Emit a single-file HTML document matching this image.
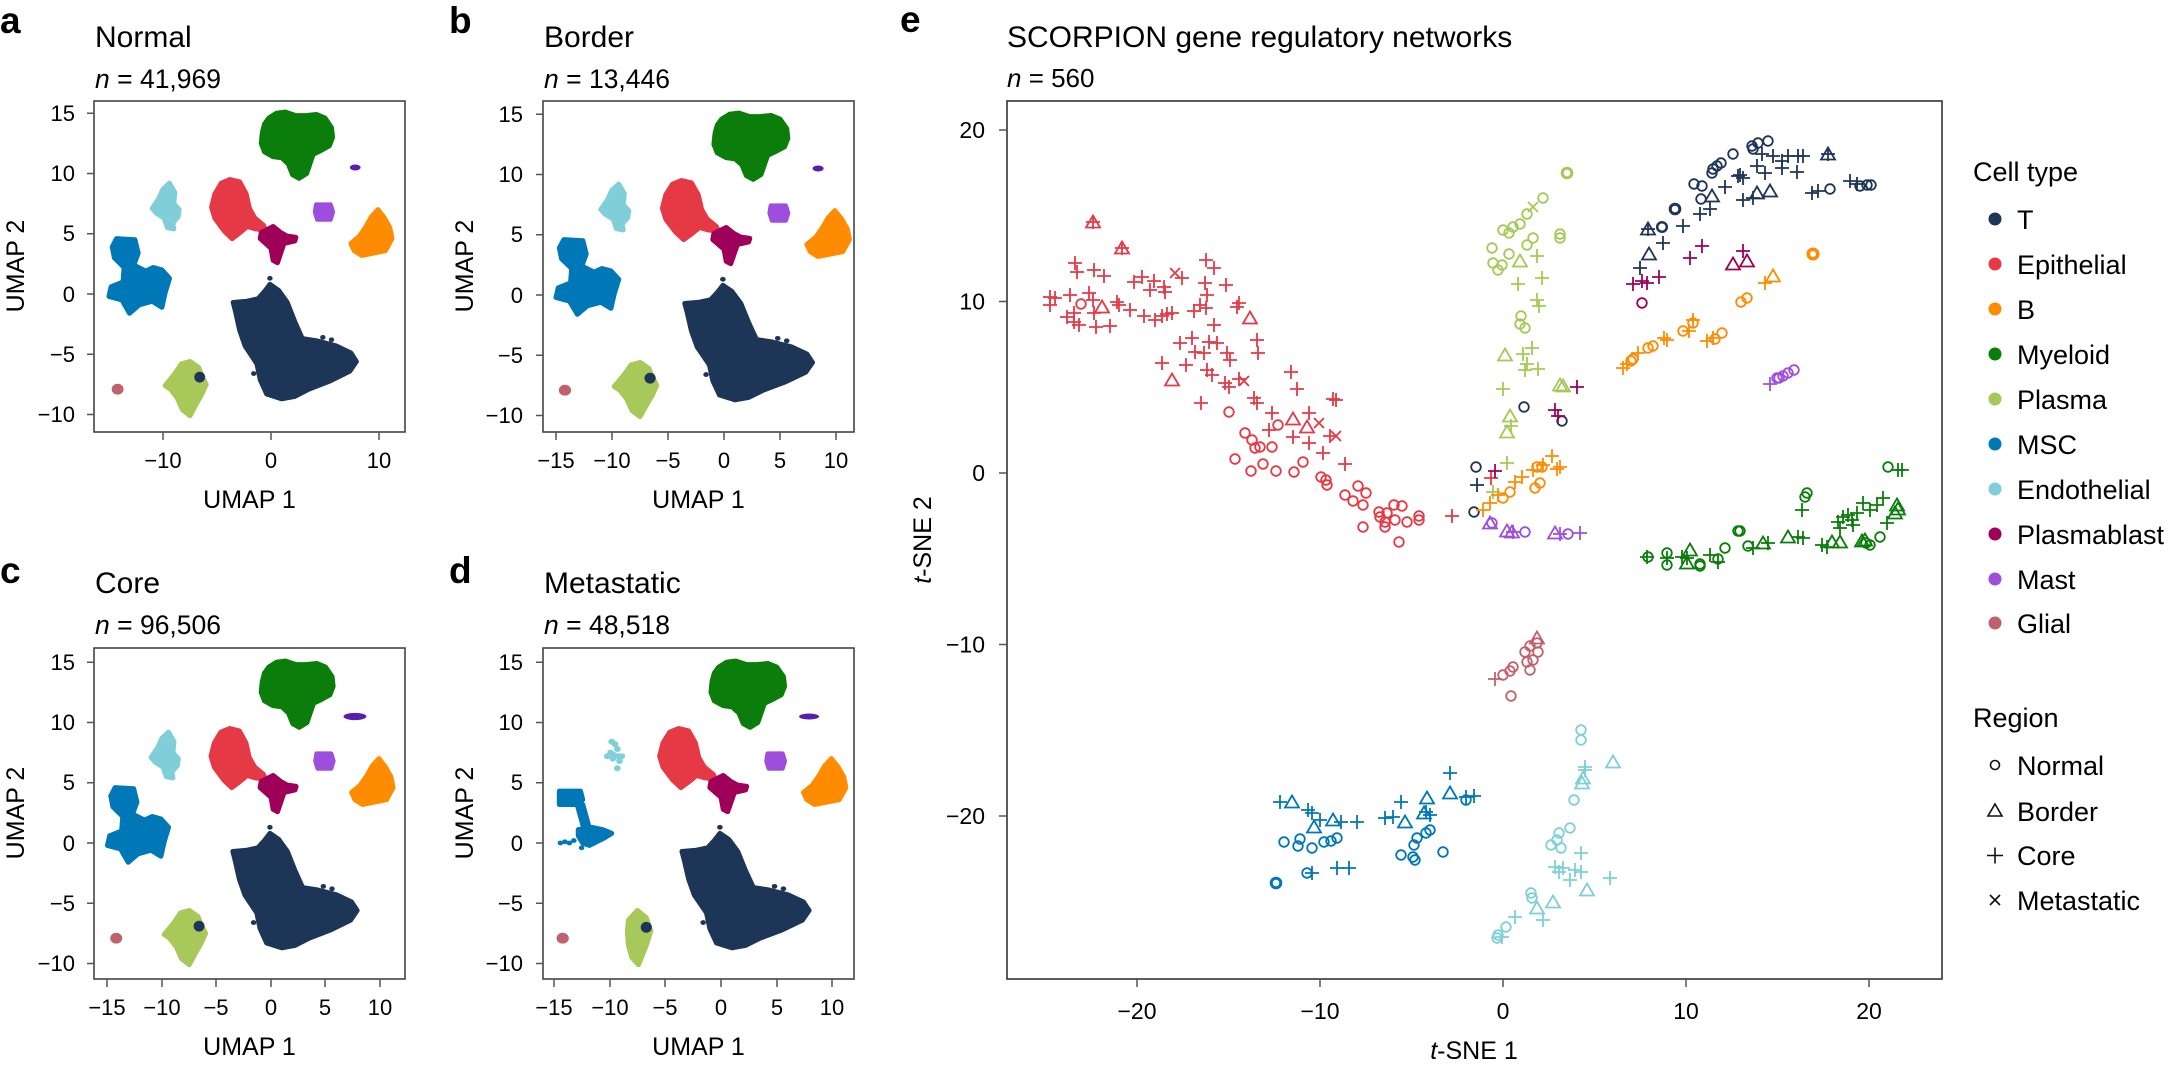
<!DOCTYPE html>
<html><head><meta charset="utf-8"><style>
html,body{margin:0;padding:0;background:#fff;}
svg{display:block;font-family:"Liberation Sans",sans-serif;}
.lt{font-weight:bold;font-size:37px;}
.ti{font-size:30px;}
.nn{font-size:26.5px;}
.tk{font-size:22px;}
.tke{font-size:23px;}
.al{font-size:25px;}
.lg{font-size:27px;}
.bl{stroke-width:5px;}
</style></head><body>
<svg width="2168" height="1067" viewBox="0 0 2168 1067" xmlns="http://www.w3.org/2000/svg">
<defs>
<circle id="o" r="4.8"/>
<path id="t" d="M0,-6.5L7,5.5H-7Z"/>
<path id="p" d="M-7,0H7M0,-7V7"/>
<path id="x" d="M-5,-5L5,5M-5,5L5,-5"/>
<clipPath id="ca"><rect x="94" y="101" width="311" height="331"/></clipPath>
<clipPath id="cb"><rect x="543" y="101" width="311" height="331"/></clipPath>
<clipPath id="cc"><rect x="94" y="648" width="311" height="331"/></clipPath>
<clipPath id="cd"><rect x="543" y="648" width="311" height="331"/></clipPath>
<g id="base" stroke-linejoin="round">
 <path class="bl" fill="#0a7d0a" stroke="#0a7d0a" vector-effect="non-scaling-stroke" d="M-0.2,14.6 L0.5,15.0 L1.3,15.1 L2.3,14.8 L3.2,14.8 L4.2,14.9 L5.0,14.6 L5.6,13.8 L5.7,13.0 L5.4,12.3 L4.6,11.9 L3.9,11.6 L3.6,10.8 L3.3,10.0 L2.6,9.6 L2.0,9.9 L1.6,10.8 L1.0,11.3 L0.2,11.4 L-0.6,11.8 L-0.9,12.5 L-0.8,13.4 L-0.6,14.1 Z"/>
 <path class="bl" fill="#9d4edd" stroke="#9d4edd" vector-effect="non-scaling-stroke" d="M4.2,7.4 L5.5,7.4 L5.7,6.8 L5.5,6.2 L4.3,6.2 L4.1,6.8 Z"/>
 <path class="bl" fill="#ff8c00" stroke="#ff8c00" vector-effect="non-scaling-stroke" d="M9.9,7.0 L10.5,6.3 L11.0,5.5 L11.2,4.6 L10.6,3.6 L9.5,3.4 L8.4,3.2 L7.7,3.6 L7.4,4.2 L8.2,4.8 L8.8,5.6 L9.3,6.4 Z"/>
 <path class="bl" fill="#e63946" stroke="#e63946" vector-effect="non-scaling-stroke" d="M-3.8,9.5 L-2.9,9.3 L-2.3,8.3 L-2.0,7.1 L-1.5,6.3 L-0.7,5.7 L-0.5,5.3 L-1.4,5.4 L-2.2,5.6 L-3.0,5.0 L-3.6,4.6 L-4.3,5.2 L-5.2,6.3 L-5.5,7.2 L-5.2,8.3 L-4.6,9.2 Z"/>
 <path class="bl" fill="#9e0059" stroke="#9e0059" vector-effect="non-scaling-stroke" d="M-0.9,5.1 L0.2,5.6 L0.9,5.1 L1.5,4.8 L2.3,4.7 L2.2,4.4 L1.2,4.2 L0.9,3.4 L0.6,2.6 L0.2,2.8 L0.0,3.8 L-0.5,4.2 L-1.0,4.6 Z"/>
 <path class="bl" fill="#1d3557" stroke="#1d3557" vector-effect="non-scaling-stroke" d="M-0.1,0.8 L0.7,0.3 L1.5,-0.7 L2.2,-2.3 L2.9,-3.7 L4.3,-3.9 L6.0,-4.3 L7.4,-4.9 L7.9,-5.6 L7.3,-6.4 L5.5,-7.2 L3.5,-7.9 L2.2,-8.5 L1.0,-8.7 L-0.4,-8.3 L-1.0,-7.1 L-1.3,-5.8 L-2.4,-4.3 L-2.9,-3.0 L-3.3,-1.4 L-3.5,-0.7 L-2.2,-0.6 L-1.2,-0.4 L-0.6,0.2 Z"/>
 <g fill="#1d3557"><ellipse cx="-0.1" cy="1.3" rx="0.25" ry="0.2"/><ellipse cx="4.8" cy="-3.6" rx="0.25" ry="0.2"/><ellipse cx="5.6" cy="-3.8" rx="0.25" ry="0.2"/><ellipse cx="-1.6" cy="-6.6" rx="0.25" ry="0.2"/></g>
 <ellipse cx="-14.2" cy="-7.9" rx="0.55" ry="0.45" fill="#c0626e"/>
</g>
<g id="msc" stroke-linejoin="round">
 <path class="bl" fill="#0077b6" stroke="#0077b6" vector-effect="non-scaling-stroke" d="M-14.3,4.6 L-12.6,4.5 L-12.3,3.4 L-12.7,2.4 L-11.6,1.9 L-10.9,2.2 L-10.1,2.0 L-9.4,1.3 L-9.8,0.1 L-10.1,-1.1 L-11.0,-0.6 L-12.2,-0.9 L-13.1,-1.6 L-13.8,-0.5 L-15.0,-0.2 L-14.8,0.6 L-13.7,1.0 L-13.6,2.2 L-14.5,3.0 L-14.7,3.9 Z"/>
 <path class="bl" fill="#80cfd8" stroke="#80cfd8" vector-effect="non-scaling-stroke" d="M-9.4,9.2 L-8.9,8.4 L-9.0,7.5 L-8.5,7.0 L-8.6,6.4 L-9.1,5.9 L-9.0,5.4 L-9.6,5.5 L-9.9,6.3 L-10.6,6.7 L-11.0,7.1 L-10.4,7.9 L-10.0,8.7 Z"/>
 <path class="bl" fill="#a8c95a" stroke="#a8c95a" vector-effect="non-scaling-stroke" d="M-7.5,-5.6 L-6.7,-6.1 L-6.4,-6.8 L-6.0,-7.5 L-6.4,-8.3 L-6.9,-9.1 L-7.5,-10.1 L-8.2,-9.6 L-8.7,-8.6 L-9.3,-7.9 L-9.8,-7.6 L-8.9,-6.6 L-8.3,-5.8 Z"/>
 <ellipse cx="-6.6" cy="-6.9" rx="0.5" ry="0.45" fill="#1d3557"/>
</g>
<g id="mscd" stroke-linejoin="round">
 <path class="bl" fill="#0077b6" stroke="#0077b6" vector-effect="non-scaling-stroke" d="M-14.5,4.3 L-12.6,4.3 L-12.4,3.6 L-13.0,3.2 L-14.5,3.2 Z M-12.9,3.2 L-12.4,3.2 L-11.8,1.2 L-12.3,1.2 Z M-12.8,1.1 L-11.6,1.3 L-10.6,1.1 L-9.8,0.8 L-10.5,0.4 L-11.8,-0.2 L-12.4,0.0 L-12.8,0.6 Z"/>
 <g fill="#0077b6"><ellipse cx="-14.4" cy="0" rx="0.25" ry="0.2"/><ellipse cx="-14.0" cy="0.1" rx="0.25" ry="0.2"/><ellipse cx="-13.6" cy="0" rx="0.25" ry="0.2"/><ellipse cx="-13.2" cy="0.2" rx="0.25" ry="0.2"/><ellipse cx="-12.5" cy="-0.4" rx="0.25" ry="0.2"/></g>
 <g fill="#80cfd8"><ellipse cx="-9.8" cy="8.4" rx="0.3" ry="0.25"/><ellipse cx="-9.5" cy="8.2" rx="0.3" ry="0.25"/><ellipse cx="-9.3" cy="7.8" rx="0.3" ry="0.25"/><ellipse cx="-9.9" cy="7.5" rx="0.3" ry="0.25"/><ellipse cx="-10.2" cy="7.2" rx="0.3" ry="0.25"/><ellipse cx="-9.6" cy="7.3" rx="0.3" ry="0.25"/><ellipse cx="-9.2" cy="7.2" rx="0.3" ry="0.25"/><ellipse cx="-8.9" cy="7.2" rx="0.3" ry="0.25"/><ellipse cx="-9.1" cy="6.8" rx="0.3" ry="0.25"/><ellipse cx="-9.3" cy="6.2" rx="0.3" ry="0.25"/><ellipse cx="-9.7" cy="7.0" rx="0.3" ry="0.25"/></g>
 <path class="bl" fill="#a8c95a" stroke="#a8c95a" vector-effect="non-scaling-stroke" d="M-7.5,-5.6 L-6.7,-6.2 L-6.3,-7.3 L-6.7,-8.5 L-7.4,-10.1 L-8.0,-9.5 L-8.3,-8.5 L-8.4,-7.3 L-8.3,-6.4 Z"/>
 <ellipse cx="-6.7" cy="-7.0" rx="0.5" ry="0.45" fill="#1d3557"/>
</g>
</defs>
<rect width="2168" height="1067" fill="#fff"/>

<!-- Panel a -->
<text class="lt" x="0" y="33">a</text>
<text class="ti" x="95" y="47">Normal</text>
<text class="nn" x="95" y="88"><tspan font-style="italic">n</tspan> = 41,969</text>
<g clip-path="url(#ca)">
 <g transform="translate(271,294) scale(10.8,-12.05)"><use href="#base"/><use href="#msc"/><ellipse cx="7.8" cy="10.5" rx="0.5" ry="0.25" fill="#5b1db0"/></g>
</g>
<rect x="94" y="101" width="311" height="331" fill="none" stroke="#444" stroke-width="1.6"/>
<g stroke="#555" stroke-width="1.5">
 <path d="M87,113.3H94M87,173.5H94M87,233.8H94M87,294H94M87,354.3H94M87,414.5H94"/>
 <path d="M163,432V440M271,432V440M379,432V440"/>
</g>
<g class="tk" text-anchor="end">
 <text x="75" y="121">15</text><text x="75" y="181">10</text><text x="75" y="241">5</text><text x="75" y="302">0</text><text x="75" y="362">−5</text><text x="75" y="422">−10</text>
</g>
<g class="tk" text-anchor="middle"><text x="163" y="468">−10</text><text x="271" y="468">0</text><text x="379" y="468">10</text></g>
<text class="al" x="249.5" y="508" text-anchor="middle">UMAP 1</text>
<text class="al" transform="translate(24,266) rotate(-90)" text-anchor="middle">UMAP 2</text>

<!-- Panel b -->
<text class="lt" x="449" y="33">b</text>
<text class="ti" x="544" y="47">Border</text>
<text class="nn" x="544" y="88"><tspan font-style="italic">n</tspan> = 13,446</text>
<g clip-path="url(#cb)">
 <g transform="translate(724,295) scale(11.2,-12.05)"><use href="#base"/><use href="#msc"/><ellipse cx="8.4" cy="10.5" rx="0.5" ry="0.25" fill="#5b1db0"/></g>
</g>
<rect x="543" y="101" width="311" height="331" fill="none" stroke="#444" stroke-width="1.6"/>
<g stroke="#555" stroke-width="1.5">
 <path d="M536,114.3H543M536,174.5H543M536,234.8H543M536,295H543M536,355.3H543M536,415.5H543"/>
 <path d="M556,432V440M612,432V440M668,432V440M724,432V440M780,432V440M836,432V440"/>
</g>
<g class="tk" text-anchor="end">
 <text x="523" y="122">15</text><text x="523" y="182">10</text><text x="523" y="242">5</text><text x="523" y="303">0</text><text x="523" y="363">−5</text><text x="523" y="423">−10</text>
</g>
<g class="tk" text-anchor="middle"><text x="556" y="468">−15</text><text x="612" y="468">−10</text><text x="668" y="468">−5</text><text x="724" y="468">0</text><text x="780" y="468">5</text><text x="836" y="468">10</text></g>
<text class="al" x="698.5" y="508" text-anchor="middle">UMAP 1</text>
<text class="al" transform="translate(473,266) rotate(-90)" text-anchor="middle">UMAP 2</text>

<!-- Panel c -->
<text class="lt" x="0" y="583">c</text>
<text class="ti" x="95" y="593">Core</text>
<text class="nn" x="95" y="634"><tspan font-style="italic">n</tspan> = 96,506</text>
<g clip-path="url(#cc)">
 <g transform="translate(271,843) scale(10.9,-12.05)"><use href="#base"/><use href="#msc"/><ellipse cx="7.7" cy="10.5" rx="1.05" ry="0.3" fill="#5b1db0"/></g>
</g>
<rect x="94" y="648" width="311" height="331" fill="none" stroke="#444" stroke-width="1.6"/>
<g stroke="#555" stroke-width="1.5">
 <path d="M87,662.3H94M87,722.5H94M87,782.8H94M87,843H94M87,903.3H94M87,963.5H94"/>
 <path d="M107,979V987M162,979V987M216,979V987M271,979V987M325,979V987M380,979V987"/>
</g>
<g class="tk" text-anchor="end">
 <text x="75" y="670">15</text><text x="75" y="730">10</text><text x="75" y="790">5</text><text x="75" y="851">0</text><text x="75" y="911">−5</text><text x="75" y="971">−10</text>
</g>
<g class="tk" text-anchor="middle"><text x="107" y="1015">−15</text><text x="162" y="1015">−10</text><text x="216" y="1015">−5</text><text x="271" y="1015">0</text><text x="325" y="1015">5</text><text x="380" y="1015">10</text></g>
<text class="al" x="249.5" y="1055" text-anchor="middle">UMAP 1</text>
<text class="al" transform="translate(24,813) rotate(-90)" text-anchor="middle">UMAP 2</text>

<!-- Panel d -->
<text class="lt" x="449" y="583">d</text>
<text class="ti" x="544" y="593">Metastatic</text>
<text class="nn" x="544" y="634"><tspan font-style="italic">n</tspan> = 48,518</text>
<g clip-path="url(#cd)">
 <g transform="translate(721,843) scale(11.15,-12.05)"><use href="#base"/><use href="#mscd"/><ellipse cx="7.9" cy="10.5" rx="0.9" ry="0.25" fill="#5b1db0"/></g>
</g>
<rect x="543" y="648" width="311" height="331" fill="none" stroke="#444" stroke-width="1.6"/>
<g stroke="#555" stroke-width="1.5">
 <path d="M536,662.3H543M536,722.5H543M536,782.8H543M536,843H543M536,903.3H543M536,963.5H543"/>
 <path d="M554,979V987M610,979V987M665,979V987M721,979V987M777,979V987M832,979V987"/>
</g>
<g class="tk" text-anchor="end">
 <text x="523" y="670">15</text><text x="523" y="730">10</text><text x="523" y="790">5</text><text x="523" y="851">0</text><text x="523" y="911">−5</text><text x="523" y="971">−10</text>
</g>
<g class="tk" text-anchor="middle"><text x="554" y="1015">−15</text><text x="610" y="1015">−10</text><text x="665" y="1015">−5</text><text x="721" y="1015">0</text><text x="777" y="1015">5</text><text x="832" y="1015">10</text></g>
<text class="al" x="698.5" y="1055" text-anchor="middle">UMAP 1</text>
<text class="al" transform="translate(473,813) rotate(-90)" text-anchor="middle">UMAP 2</text>

<!-- Panel e -->
<text class="lt" x="900" y="32">e</text>
<text x="1007" y="47" font-size="30">SCORPION gene regulatory networks</text>
<text x="1007" y="87" font-size="26"><tspan font-style="italic">n</tspan> = 560</text>
<rect x="1007" y="101" width="935" height="878" fill="none" stroke="#333" stroke-width="1.6"/>
<g stroke="#555" stroke-width="1.5">
 <path d="M999,130H1007M999,301.5H1007M999,473H1007M999,644.5H1007M999,816H1007"/>
 <path d="M1137,979V987M1320,979V987M1503,979V987M1686,979V987M1869,979V987"/>
</g>
<g class="tke" text-anchor="end">
 <text x="985" y="138">20</text><text x="985" y="309.5">10</text><text x="985" y="481">0</text><text x="985" y="652.5">−10</text><text x="985" y="824">−20</text>
</g>
<g class="tke" text-anchor="middle"><text x="1137" y="1019">−20</text><text x="1320" y="1019">−10</text><text x="1503" y="1019">0</text><text x="1686" y="1019">10</text><text x="1869" y="1019">20</text></g>
<text class="al" x="1474" y="1059" text-anchor="middle"><tspan font-style="italic">t</tspan>-SNE 1</text>
<text class="al" transform="translate(931,540) rotate(-90)" text-anchor="middle"><tspan font-style="italic">t</tspan>-SNE 2</text>

<!-- Epithelial -->
<g fill="none" stroke="#e63946" stroke-width="1.8">
<use href="#t" x="1093" y="222"/><use href="#t" x="1122" y="248"/><use href="#t" x="1102" y="307"/><use href="#t" x="1250" y="318"/><use href="#t" x="1172" y="380"/><use href="#t" x="1293" y="419"/><use href="#t" x="1307" y="427"/>
<use href="#p" x="1093" y="222"/><use href="#p" x="1122" y="248"/><use href="#p" x="1075" y="263"/><use href="#p" x="1077" y="272"/><use href="#p" x="1094" y="270"/><use href="#p" x="1104" y="276"/><use href="#p" x="1050" y="297"/><use href="#p" x="1050" y="305"/><use href="#p" x="1055" y="298"/><use href="#p" x="1070" y="295"/><use href="#p" x="1067" y="317"/><use href="#p" x="1074" y="313"/><use href="#p" x="1079" y="325"/><use href="#p" x="1074" y="322"/><use href="#p" x="1089" y="293"/><use href="#p" x="1093" y="300"/><use href="#p" x="1096" y="327"/><use href="#p" x="1110" y="326"/><use href="#p" x="1094" y="313"/><use href="#p" x="1117" y="302"/><use href="#p" x="1119" y="305"/><use href="#p" x="1130" y="310"/><use href="#p" x="1134" y="282"/><use href="#p" x="1142" y="277"/><use href="#p" x="1154" y="281"/><use href="#p" x="1150" y="290"/><use href="#p" x="1164" y="287"/><use href="#p" x="1165" y="292"/><use href="#p" x="1144" y="316"/><use href="#p" x="1155" y="320"/><use href="#p" x="1162" y="316"/><use href="#p" x="1167" y="314"/><use href="#p" x="1172" y="313"/><use href="#p" x="1182" y="278"/><use href="#p" x="1206" y="260"/><use href="#p" x="1214" y="268"/><use href="#p" x="1205" y="283"/><use href="#p" x="1207" y="295"/><use href="#p" x="1200" y="305"/><use href="#p" x="1194" y="311"/><use href="#p" x="1206" y="308"/><use href="#p" x="1226" y="285"/><use href="#p" x="1239" y="303"/><use href="#p" x="1237" y="307"/><use href="#p" x="1214" y="325"/><use href="#p" x="1180" y="343"/><use href="#p" x="1192" y="338"/><use href="#p" x="1195" y="352"/><use href="#p" x="1204" y="353"/><use href="#p" x="1209" y="342"/><use href="#p" x="1217" y="343"/><use href="#p" x="1227" y="353"/><use href="#p" x="1230" y="360"/><use href="#p" x="1207" y="370"/><use href="#p" x="1212" y="375"/><use href="#p" x="1162" y="363"/><use href="#p" x="1186" y="365"/><use href="#p" x="1225" y="383"/><use href="#p" x="1229" y="387"/><use href="#p" x="1239" y="379"/><use href="#p" x="1201" y="403"/><use href="#p" x="1254" y="398"/><use href="#p" x="1257" y="403"/><use href="#p" x="1257" y="340"/><use href="#p" x="1258" y="353"/><use href="#p" x="1291" y="372"/><use href="#p" x="1297" y="389"/><use href="#p" x="1333" y="399"/><use href="#p" x="1336" y="400"/><use href="#p" x="1272" y="413"/><use href="#p" x="1269" y="430"/><use href="#p" x="1309" y="413"/><use href="#p" x="1293" y="437"/><use href="#p" x="1309" y="443"/><use href="#p" x="1323" y="453"/><use href="#p" x="1345" y="464"/><use href="#p" x="1330" y="436"/><use href="#p" x="1452" y="516"/><use href="#p" x="1491" y="478"/>
<use href="#x" x="1175" y="273"/><use href="#x" x="1244" y="381"/><use href="#x" x="1319" y="423"/><use href="#x" x="1336" y="436"/>
<use href="#o" x="1081" y="304"/><use href="#o" x="1229" y="412"/><use href="#o" x="1245" y="433"/><use href="#o" x="1252" y="440"/><use href="#o" x="1255" y="448"/><use href="#o" x="1260" y="447"/><use href="#o" x="1272" y="447"/><use href="#o" x="1278" y="425"/><use href="#o" x="1235" y="459"/><use href="#o" x="1251" y="471"/><use href="#o" x="1263" y="464"/><use href="#o" x="1276" y="471"/><use href="#o" x="1294" y="472"/><use href="#o" x="1303" y="462"/><use href="#o" x="1321" y="477"/><use href="#o" x="1326" y="480"/><use href="#o" x="1327" y="485"/><use href="#o" x="1345" y="495"/><use href="#o" x="1353" y="501"/><use href="#o" x="1358" y="486"/><use href="#o" x="1366" y="493"/><use href="#o" x="1363" y="505"/><use href="#o" x="1379" y="512"/><use href="#o" x="1380" y="517"/><use href="#o" x="1385" y="522"/><use href="#o" x="1394" y="505"/><use href="#o" x="1402" y="506"/><use href="#o" x="1387" y="513"/><use href="#o" x="1395" y="520"/><use href="#o" x="1407" y="522"/><use href="#o" x="1419" y="516"/><use href="#o" x="1419" y="520"/><use href="#o" x="1363" y="527"/><use href="#o" x="1385" y="527"/><use href="#o" x="1399" y="542"/>
</g>
<!-- Plasma -->
<g fill="none" stroke="#a5c956" stroke-width="1.8">
<use href="#o" x="1567" y="173" stroke-width="3"/><use href="#o" x="1543" y="198"/><use href="#o" x="1527" y="214"/><use href="#o" x="1520" y="224"/><use href="#o" x="1513" y="227"/><use href="#o" x="1503" y="230"/><use href="#o" x="1509" y="233"/><use href="#o" x="1533" y="238"/><use href="#o" x="1527" y="245"/><use href="#o" x="1560" y="234"/><use href="#o" x="1560" y="238"/><use href="#o" x="1492" y="248"/><use href="#o" x="1509" y="254"/><use href="#o" x="1493" y="263"/><use href="#o" x="1502" y="265"/><use href="#o" x="1498" y="270"/><use href="#o" x="1521" y="316"/><use href="#o" x="1520" y="324"/><use href="#o" x="1525" y="328"/>
<use href="#x" x="1533" y="207"/>
<use href="#t" x="1520" y="261"/><use href="#t" x="1505" y="355"/><use href="#t" x="1560" y="385"/><use href="#t" x="1563" y="386"/><use href="#t" x="1510" y="416"/><use href="#t" x="1507" y="432"/>
<use href="#p" x="1537" y="256"/><use href="#p" x="1542" y="278"/><use href="#p" x="1518" y="284"/><use href="#p" x="1537" y="300"/><use href="#p" x="1539" y="306"/><use href="#p" x="1532" y="348"/><use href="#p" x="1523" y="354"/><use href="#p" x="1527" y="364"/><use href="#p" x="1538" y="369"/><use href="#p" x="1525" y="370"/><use href="#p" x="1503" y="389"/><use href="#p" x="1511" y="426"/><use href="#p" x="1507" y="463"/><use href="#p" x="1493" y="492"/>
</g>
<!-- T -->
<g fill="none" stroke="#1d3557" stroke-width="1.8">
<use href="#o" x="1768" y="141"/><use href="#o" x="1758" y="143"/><use href="#o" x="1752" y="146"/><use href="#o" x="1753" y="149"/><use href="#o" x="1733" y="154"/><use href="#o" x="1721" y="163"/><use href="#o" x="1717" y="166"/><use href="#o" x="1713" y="169"/><use href="#o" x="1712" y="173"/><use href="#o" x="1694" y="184"/><use href="#o" x="1702" y="186"/><use href="#o" x="1701" y="199"/><use href="#o" x="1675" y="209" stroke-width="3"/><use href="#o" x="1662" y="227" stroke-width="2.5"/><use href="#o" x="1830" y="189"/><use href="#o" x="1860" y="186"/><use href="#o" x="1867" y="185"/><use href="#o" x="1871" y="185"/><use href="#o" x="1524" y="407"/><use href="#o" x="1562" y="421"/><use href="#o" x="1476" y="467"/><use href="#o" x="1474" y="512"/>
<use href="#p" x="1762" y="154"/><use href="#p" x="1773" y="156"/><use href="#p" x="1782" y="161"/><use href="#p" x="1788" y="156"/><use href="#p" x="1798" y="156"/><use href="#p" x="1803" y="156"/><use href="#p" x="1757" y="166"/><use href="#p" x="1765" y="173"/><use href="#p" x="1782" y="168"/><use href="#p" x="1797" y="172"/><use href="#p" x="1738" y="176"/><use href="#p" x="1743" y="178"/><use href="#p" x="1740" y="175"/><use href="#p" x="1725" y="187"/><use href="#p" x="1743" y="200"/><use href="#p" x="1753" y="198"/><use href="#p" x="1700" y="214"/><use href="#p" x="1710" y="209"/><use href="#p" x="1683" y="226"/><use href="#p" x="1663" y="243"/><use href="#p" x="1640" y="268"/><use href="#p" x="1812" y="193"/><use href="#p" x="1818" y="191"/><use href="#p" x="1850" y="181"/><use href="#p" x="1857" y="184"/><use href="#p" x="1828" y="154"/><use href="#p" x="1477" y="485"/><use href="#p" x="1648" y="229"/>
<use href="#t" x="1828" y="154"/><use href="#t" x="1757" y="193"/><use href="#t" x="1770" y="191"/><use href="#t" x="1712" y="196"/><use href="#t" x="1648" y="229"/><use href="#t" x="1649" y="254"/>
</g>
<!-- Plasmablast -->
<g fill="none" stroke="#9e0059" stroke-width="1.8">
<use href="#p" x="1702" y="246"/><use href="#p" x="1690" y="258"/><use href="#p" x="1659" y="277"/><use href="#p" x="1633" y="284"/><use href="#p" x="1642" y="281"/><use href="#p" x="1647" y="283"/><use href="#p" x="1743" y="251"/><use href="#p" x="1577" y="387"/><use href="#p" x="1555" y="410"/><use href="#p" x="1558" y="416"/><use href="#p" x="1495" y="471"/>
<use href="#t" x="1733" y="264"/><use href="#t" x="1747" y="261"/>
<use href="#o" x="1642" y="303"/>
</g>
<!-- B -->
<g fill="none" stroke="#ff8c00" stroke-width="1.8">
<use href="#o" x="1813" y="254" stroke-width="3.5"/><use href="#o" x="1741" y="302"/><use href="#o" x="1747" y="298"/><use href="#o" x="1693" y="323"/><use href="#o" x="1683" y="331"/><use href="#o" x="1722" y="333"/><use href="#o" x="1715" y="339"/><use href="#o" x="1653" y="346"/><use href="#o" x="1648" y="348"/><use href="#o" x="1633" y="359"/><use href="#o" x="1631" y="361"/><use href="#o" x="1537" y="467"/><use href="#o" x="1542" y="467"/><use href="#o" x="1540" y="483"/><use href="#o" x="1535" y="488"/><use href="#o" x="1510" y="492"/><use href="#o" x="1503" y="498"/>
<use href="#t" x="1773" y="276"/>
<use href="#p" x="1765" y="283"/><use href="#p" x="1664" y="338"/><use href="#p" x="1667" y="340"/><use href="#p" x="1689" y="331"/><use href="#p" x="1693" y="320"/><use href="#p" x="1707" y="341"/><use href="#p" x="1713" y="338"/><use href="#p" x="1638" y="353"/><use href="#p" x="1623" y="368"/><use href="#p" x="1627" y="364"/><use href="#p" x="1552" y="456"/><use href="#p" x="1560" y="467"/><use href="#p" x="1557" y="469"/><use href="#p" x="1543" y="465"/><use href="#p" x="1533" y="470"/><use href="#p" x="1522" y="477"/><use href="#p" x="1515" y="482"/><use href="#p" x="1490" y="503"/><use href="#p" x="1483" y="510"/><use href="#p" x="1498" y="495"/>
</g>
<!-- Mast -->
<g fill="none" stroke="#9d4edd" stroke-width="1.8">
<use href="#o" x="1794" y="370"/><use href="#o" x="1788" y="373"/><use href="#o" x="1783" y="376"/><use href="#o" x="1779" y="378"/><use href="#o" x="1777" y="378"/><use href="#o" x="1492" y="523"/><use href="#o" x="1525" y="532"/><use href="#o" x="1568" y="534"/>
<use href="#p" x="1770" y="384"/><use href="#p" x="1580" y="533"/><use href="#p" x="1560" y="534"/><use href="#p" x="1513" y="532"/>
<use href="#t" x="1490" y="523"/><use href="#t" x="1507" y="531"/><use href="#t" x="1512" y="532"/><use href="#t" x="1555" y="533"/>
</g>
<!-- Myeloid -->
<g fill="none" stroke="#0a7d0a" stroke-width="1.8">
<use href="#p" x="1647" y="557"/><use href="#p" x="1667" y="558"/><use href="#p" x="1682" y="557"/><use href="#p" x="1687" y="558"/><use href="#p" x="1710" y="555"/><use href="#p" x="1718" y="562"/><use href="#p" x="1802" y="510"/><use href="#p" x="1803" y="538"/><use href="#p" x="1798" y="537"/><use href="#p" x="1753" y="548"/><use href="#p" x="1768" y="543"/><use href="#p" x="1822" y="545"/><use href="#p" x="1827" y="547"/><use href="#p" x="1838" y="522"/><use href="#p" x="1843" y="517"/><use href="#p" x="1852" y="520"/><use href="#p" x="1853" y="525"/><use href="#p" x="1857" y="513"/><use href="#p" x="1863" y="503"/><use href="#p" x="1877" y="505"/><use href="#p" x="1883" y="498"/><use href="#p" x="1887" y="523"/><use href="#p" x="1898" y="470"/><use href="#p" x="1902" y="470"/><use href="#p" x="1848" y="515"/><use href="#p" x="1840" y="528"/><use href="#p" x="1870" y="510"/>
<use href="#o" x="1648" y="557"/><use href="#o" x="1667" y="553"/><use href="#o" x="1667" y="565"/><use href="#o" x="1700" y="566"/><use href="#o" x="1700" y="564"/><use href="#o" x="1718" y="559"/><use href="#o" x="1725" y="548"/><use href="#o" x="1738" y="531"/><use href="#o" x="1740" y="531"/><use href="#o" x="1748" y="546"/><use href="#o" x="1807" y="493"/><use href="#o" x="1805" y="497"/><use href="#o" x="1870" y="545"/><use href="#o" x="1866" y="543"/><use href="#o" x="1880" y="537"/><use href="#o" x="1888" y="467"/>
<use href="#t" x="1690" y="550"/><use href="#t" x="1687" y="563"/><use href="#t" x="1763" y="543"/><use href="#t" x="1788" y="537"/><use href="#t" x="1832" y="542"/><use href="#t" x="1840" y="542"/><use href="#t" x="1862" y="541"/><use href="#t" x="1865" y="540"/><use href="#t" x="1897" y="505"/><use href="#t" x="1898" y="509"/><use href="#t" x="1895" y="513"/>
</g>
<!-- Glial -->
<g fill="none" stroke="#c0626e" stroke-width="1.8">
<use href="#o" x="1537" y="643"/><use href="#o" x="1530" y="646"/><use href="#o" x="1525" y="652"/><use href="#o" x="1538" y="652"/><use href="#o" x="1533" y="660"/><use href="#o" x="1527" y="662"/><use href="#o" x="1530" y="670"/><use href="#o" x="1513" y="667"/><use href="#o" x="1510" y="671"/><use href="#o" x="1503" y="675"/><use href="#o" x="1511" y="696"/>
<use href="#t" x="1537" y="638"/><use href="#p" x="1495" y="679"/>
</g>
<!-- MSC -->
<g fill="none" stroke="#0077b6" stroke-width="1.8">
<use href="#p" x="1280" y="802"/><use href="#p" x="1308" y="810"/><use href="#p" x="1312" y="813"/><use href="#p" x="1320" y="820"/><use href="#p" x="1341" y="822"/><use href="#p" x="1357" y="822"/><use href="#p" x="1385" y="818"/><use href="#p" x="1393" y="817"/><use href="#p" x="1401" y="802"/><use href="#p" x="1430" y="815"/><use href="#p" x="1450" y="773"/><use href="#p" x="1466" y="797"/><use href="#p" x="1474" y="796"/><use href="#p" x="1312" y="873"/><use href="#p" x="1337" y="868"/><use href="#p" x="1349" y="868"/><use href="#p" x="1426" y="812"/>
<use href="#t" x="1292" y="802"/><use href="#t" x="1314" y="827"/><use href="#t" x="1333" y="820"/><use href="#t" x="1405" y="822"/><use href="#t" x="1427" y="798"/><use href="#t" x="1450" y="793"/><use href="#t" x="1424" y="813"/>
<use href="#o" x="1284" y="842"/><use href="#o" x="1298" y="846"/><use href="#o" x="1300" y="839"/><use href="#o" x="1312" y="848"/><use href="#o" x="1324" y="842"/><use href="#o" x="1337" y="838"/><use href="#o" x="1331" y="841"/><use href="#o" x="1401" y="855"/><use href="#o" x="1413" y="857"/><use href="#o" x="1414" y="845"/><use href="#o" x="1417" y="838"/><use href="#o" x="1426" y="833"/><use href="#o" x="1430" y="830"/><use href="#o" x="1443" y="852"/><use href="#o" x="1415" y="860"/><use href="#o" x="1276" y="883" stroke-width="3"/><use href="#o" x="1307" y="873"/><use href="#o" x="1466" y="800"/>
</g>
<!-- Endothelial -->
<g fill="none" stroke="#7fcfd8" stroke-width="1.8">
<use href="#o" x="1581" y="730"/><use href="#o" x="1581" y="740"/><use href="#o" x="1574" y="800"/><use href="#o" x="1570" y="828"/><use href="#o" x="1559" y="833"/><use href="#o" x="1557" y="840"/><use href="#o" x="1551" y="845"/><use href="#o" x="1561" y="848"/><use href="#o" x="1531" y="893"/><use href="#o" x="1532" y="898"/><use href="#o" x="1506" y="927"/><use href="#o" x="1498" y="935"/><use href="#o" x="1497" y="938"/>
<use href="#t" x="1613" y="762"/><use href="#t" x="1583" y="778"/><use href="#t" x="1582" y="783"/><use href="#t" x="1587" y="890"/><use href="#t" x="1553" y="902"/><use href="#t" x="1537" y="908"/>
<use href="#p" x="1585" y="767"/><use href="#p" x="1585" y="770"/><use href="#p" x="1581" y="853"/><use href="#p" x="1555" y="867"/><use href="#p" x="1563" y="868"/><use href="#p" x="1575" y="870"/><use href="#p" x="1581" y="872"/><use href="#p" x="1559" y="872"/><use href="#p" x="1610" y="878"/><use href="#p" x="1570" y="880"/><use href="#p" x="1515" y="917"/><use href="#p" x="1543" y="920"/><use href="#p" x="1502" y="937"/>
</g>

<!-- Legend -->
<text class="lg" x="1973" y="181">Cell type</text>
<g>
<circle cx="1995" cy="219" r="6.5" fill="#1d3557"/><text class="lg" x="2017" y="229">T</text>
<circle cx="1995" cy="264" r="6.5" fill="#e63946"/><text class="lg" x="2017" y="274">Epithelial</text>
<circle cx="1995" cy="309" r="6.5" fill="#ff8c00"/><text class="lg" x="2017" y="319">B</text>
<circle cx="1995" cy="354" r="6.5" fill="#0a7d0a"/><text class="lg" x="2017" y="364">Myeloid</text>
<circle cx="1995" cy="399" r="6.5" fill="#a5c956"/><text class="lg" x="2017" y="409">Plasma</text>
<circle cx="1995" cy="444" r="6.5" fill="#0077b6"/><text class="lg" x="2017" y="454">MSC</text>
<circle cx="1995" cy="489" r="6.5" fill="#7fcfd8"/><text class="lg" x="2017" y="499">Endothelial</text>
<circle cx="1995" cy="534" r="6.5" fill="#9e0059"/><text class="lg" x="2017" y="544">Plasmablast</text>
<circle cx="1995" cy="579" r="6.5" fill="#9d4edd"/><text class="lg" x="2017" y="589">Mast</text>
<circle cx="1995" cy="623" r="6.5" fill="#c0626e"/><text class="lg" x="2017" y="633">Glial</text>
</g>
<text class="lg" x="1973" y="727">Region</text>
<g fill="none" stroke="#111" stroke-width="1.6">
<circle cx="1995" cy="765" r="4.5"/>
<path d="M1995,804L2002,816H1988Z"/>
<path d="M1987,855.5H2003M1995,847.5V863.5"/>
<path d="M1990,895L2000,905M1990,905L2000,895"/>
</g>
<text class="lg" x="2017" y="775">Normal</text>
<text class="lg" x="2017" y="821">Border</text>
<text class="lg" x="2017" y="865">Core</text>
<text class="lg" x="2017" y="910">Metastatic</text>
</svg>
</body></html>
